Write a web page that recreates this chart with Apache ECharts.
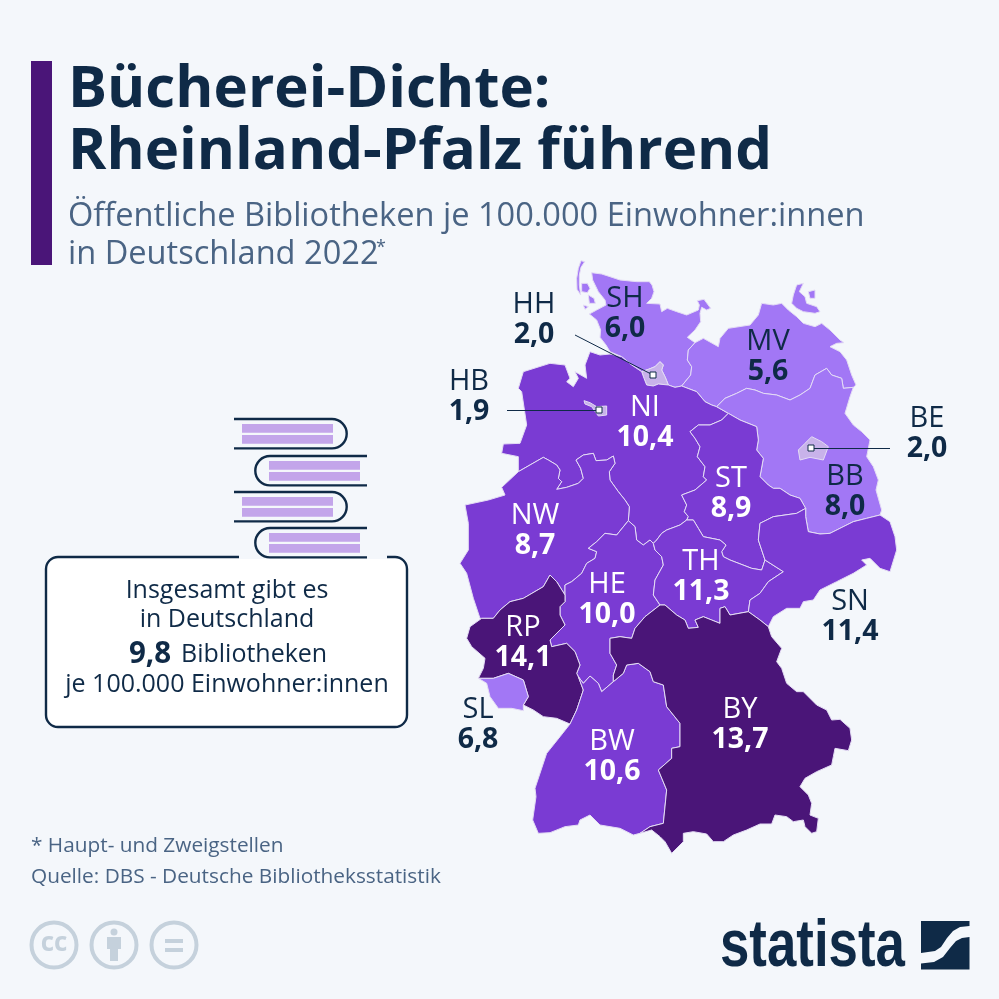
<!DOCTYPE html>
<html>
<head>
<meta charset="utf-8">
<style>
  html, body { margin: 0; padding: 0; background: #f4f7fb; }
  #chart { width: 999px; height: 999px; }
</style>
<script src="https://cdn.jsdelivr.net/npm/echarts@6/dist/echarts.min.js"></script>
</head>
<body>
<div id="chart"></div>
<script>
// chart values
const stateCodes = ['SH', 'HH', 'MV', 'HB', 'NI', 'BE', 'BB', 'ST', 'NW', 'HE', 'TH', 'SN', 'RP', 'SL', 'BW', 'BY']
const libraryDensity = [6.0, 2.0, 5.6, 1.9, 10.4, 2.0, 8.0, 8.9, 8.7, 10.0, 11.3, 11.4, 14.1, 6.8, 10.6, 13.7]
const colourBands = [
  { lt: 5, color: '#c8b2ea' },
  { gte: 5, lt: 8.5, color: '#a277f5' },
  { gte: 8.5, lt: 12, color: '#7a3bd3' },
  { gte: 12, color: '#4a1578' }
]
const darkLabelCodes = ['SH', 'HH', 'MV', 'HB', 'BE', 'BB', 'SN', 'SL']

// where the labels sit, in page pixels
const labelPlaces = {
  SH: [625, 314], HH: [534, 320], MV: [768, 357], HB: [469, 397], NI: [645, 423], BE: [927, 434],
  BB: [845, 492], ST: [731, 494], NW: [535, 531], HE: [607, 600], TH: [701, 577], SN: [850, 617],
  RP: [523, 643], SL: [478, 725], BW: [612, 757], BY: [740, 725]
}
const leaderLines = [
  [[575, 335], [653, 375]],
  [[507, 410], [599, 410]],
  [[811, 448], [890, 448]]
]

// state outlines, traced in page pixels from crops (ox, oy = crop corner, crop is 3x)
const at = (ox, oy, p) => {
  const out = []
  for (let i = 0; i < p.length; i += 2) out.push([ox + p[i] / 3, oy + p[i + 1] / 3])
  return out
}
const A = p => at(450, 250, p)
const B = p => at(640, 250, p)
const C = p => at(450, 540, p)
const D = p => at(640, 540, p)
const rev = s => s.slice().reverse()
const ring = (...segs) => { const r = [].concat(...segs); r.push(r[0]); return r }

// shared borders
const shNiW = A([515,320, 545,345, 575,365])
const hhN = A([575,365, 595,358, 615,350, 630,335, 640,345, 635,360, 645,380, 650,392, 655,405])
const hhS = A([655,405, 625,402, 610,408, 590,405, 582,385, 575,365])
const shNiE = A([655,405, 675,412, 695,408])
const shMv = A([735,278, 715,300, 712,330, 725,350, 722,375, 695,408])
const mvBb = B([230,470, 255,445, 290,430, 320,415, 345,420, 370,430, 410,435, 450,450, 480,435, 510,415, 525,375, 560,355, 575,375, 605,385, 610,415, 640,412])
const mvNi = B([125,408, 170,425, 195,455, 215,465, 230,470])
const bbNi = B([230,470, 265,490])
const bbSt = B([265,490, 300,510, 350,530, 355,570, 350,600, 370,625, 360,680, 385,705, 400,715, 420,715, 450,735, 480,745, 497,775])
const bbSn = B([497,775, 497,800, 505,845, 540,852, 570,850, 600,835, 640,815, 680,805, 720,795])
const niSt = B([265,490, 245,510, 210,525, 175,525, 150,545, 165,565, 180,590, 172,620, 195,650, 190,680, 200,690, 165,720, 125,735, 140,765, 133,785, 145,800, 140,810])
const stTh = B([140,810, 160,810, 175,835, 190,860, 240,870, 258,885, 245,905, 250,920, 270,930, 335,955, 365,960, 375,930])
const stSn = B([375,930, 355,870, 360,820, 400,800, 470,790, 497,775])
const niTh = A([710,810, 690,825, 650,840, 635,850, 620,870, 610,880])
const niHe = A([610,880, 600,870, 580,885, 560,870, 555,830, 535,812])
const niNw = A([535,812, 538,770, 525,750, 505,725, 480,690, 478,665, 495,640, 490,618, 470,630, 438,632, 430,610, 400,615, 378,630, 392,655, 400,685, 385,700, 350,712, 320,718, 335,695, 325,685, 330,660, 320,645, 295,630, 280,622, 205,665])
const nwRp = C([95,235, 130,235, 150,210, 180,185, 220,175, 280,140, 300,105, 320,125, 345,165])
const nwHe = C([345,165, 345,135, 365,125, 395,100, 410,70, 435,55, 440,35, 415,25, 440,5, 465,-20, 500,-15, 535,-58])
const rpHe = C([345,165, 345,185, 330,200, 330,225, 345,255, 300,300, 305,320, 350,310, 375,335, 390,375, 380,400, 385,410])
const rpBw = C([385,410, 400,450, 380,510, 360,552])
const rpSl = C([85,415, 130,415, 175,400, 220,420, 235,470, 220,495])
const heBw = C([385,410, 400,430, 420,408, 445,430, 455,455, 490,425])
const heBy = C([630,195, 585,230, 555,265, 545,295, 510,290, 480,295, 480,340, 500,375, 490,405, 490,425])
const heTh = C([630,195, 610,165, 615,120, 640,75, 635,50, 615,30, 610,10])
const thBy = D([60,195, 75,195, 110,225, 135,240, 145,265, 175,262, 165,240, 190,230, 215,240, 240,250, 240,205, 255,200, 270,225, 325,215])
const thSn = D([375,60, 430,95, 385,125, 360,160, 330,180, 325,215])
const snBy = D([385,260, 360,240, 325,215])
const byBw = C([490,425, 520,400, 530,375, 565,370, 600,395, 610,425, 640,435, 650,500, 690,550, 690,620, 665,625, 665,655, 625,690, 650,750, 640,850, 600,860, 570,880])

// outer coast and frontier pieces
const shOuter = A([515,320, 480,305, 468,285, 450,262, 452,240, 440,210, 418,192, 440,180, 468,165, 465,150, 445,125, 428,90, 425,68, 455,72, 480,80, 510,90, 560,95, 598,95, 606,105, 612,125, 605,145, 590,160, 630,162, 635,185, 652,175, 680,185, 710,195, 745,180, 748,165, 742,152, 762,148, 782,175, 770,180, 755,172, 750,190, 752,215, 735,240, 712,262, 735,278])
const mvOuter = B([165,278, 190,265, 235,290, 240,265, 265,235, 330,225, 355,195, 365,160, 400,165, 425,160, 445,180, 470,200, 490,220, 525,230, 545,220, 570,240, 600,270, 612,278, 590,280, 570,290, 600,305, 620,330, 635,375, 648,405, 640,412])
const bbOuter = B([640,412, 630,440, 615,490, 640,525, 665,545, 690,570, 680,620, 700,650, 715,690, 708,720, 725,780, 720,795])
const niOuter = A([205,665, 205,620, 155,610, 160,582, 210,580, 230,525, 215,425, 205,415, 220,365, 300,340, 345,345, 360,385, 350,395, 370,410, 385,385, 375,365, 410,385, 405,345, 420,305, 450,315, 480,312, 515,320])
const nwOuter = A([205,665, 155,712, 165,735, 115,750, 45,765, 55,820, 55,900, 30,940, 50,970, 70,1045, 90,1105, 95,1105])
const rpSouth = C([360,552, 320,535, 280,530, 250,510, 220,495])
const rpWest = C([85,415, 100,385, 105,355, 65,320, 50,295, 60,260, 95,235])
const slOuter = C([220,495, 220,512, 185,505, 145,505, 120,470, 110,430, 85,415])
const snOuter = B([720,795, 750,815, 765,860, 770,900, 750,965, 720,955, 690,925, 665,930, 680,945, 640,970, 590,995, 540,1020, 520,1050, 490,1055, 480,1075, 440,1075, 400,1100, 385,1130])
const byOuter = D([385,260, 395,290, 425,325, 410,365, 425,385, 440,430, 470,455, 490,455, 530,495, 560,510, 575,540, 600,538, 630,565, 635,600, 625,632, 585,625, 580,650, 575,675, 530,695, 495,715, 480,740, 505,765, 515,790, 510,825, 535,835, 530,875, 515,880, 495,860, 490,840, 460,845, 440,830, 405,825, 395,852, 360,852, 320,870, 280,885, 250,905, 220,905, 200,882, 160,875, 130,880, 130,905, 95,940, 75,905, 60,890, 35,870])
const bwOuter = C([570,880, 550,885, 510,865, 450,855, 420,825, 390,840, 385,855, 345,860, 300,878, 265,880, 248,840, 258,770, 255,745, 290,640, 330,590, 360,552])

const stateShapes = {
  SH: [ring(shOuter, shMv, rev(shNiE), rev(hhN), rev(shNiW)),
    ring(A([393,32, 404,35, 393,52, 388,75, 388,105, 392,135, 381,118, 380,85, 385,55])),
    ring(A([395,100, 412,100, 420,115, 412,128, 395,125])),
    ring(A([415,135, 432,145, 436,160, 418,160])),
    ring(A([400,165, 415,170, 405,178]))],
  HH: [ring(hhN, hhS)],
  MV: [ring(mvOuter, rev(mvBb), rev(mvNi), rev(shMv)),
    ring(B([470,105, 490,100, 478,125, 495,140, 500,160, 530,170, 540,185, 525,190, 490,185, 470,175, 455,160, 460,135])),
    ring(B([505,125, 525,120, 525,145, 510,145]))],
  NI: [ring(niOuter, shNiW, rev(hhS), shNiE, mvNi, bbNi, niSt, niTh, niHe, niNw)],
  HB: [ring(A([402,452, 420,458, 440,470, 470,468, 470,495, 445,498, 425,470, 405,462]))],
  BB: [ring(mvBb, bbOuter, rev(bbSn), rev(bbSt), rev(bbNi))],
  BE: [ring(B([475,600, 495,580, 515,560, 545,575, 565,590, 550,630, 510,622, 480,630]))],
  ST: [ring(bbSt, rev(stSn), rev(stTh), rev(niSt))],
  NW: [ring(nwOuter, nwRp, nwHe, niNw)],
  HE: [ring(rpHe, heBw, rev(heBy), heTh, niHe, rev(nwHe))],
  TH: [ring(thBy, rev(thSn), rev(stTh), niTh, rev(heTh))],
  SN: [ring(stSn, bbSn, snOuter, snBy, rev(thSn))],
  RP: [ring(nwRp, rpHe, rpBw, rpSouth, rev(rpSl), rpWest)],
  SL: [ring(rpSl, slOuter)],
  BY: [ring(thBy, rev(snBy), byOuter, rev(byBw), rev(heBy))],
  BW: [ring(byBw, bwOuter, rev(rpBw), heBw)]
}

// BB before BE and NI before HB so the city states stay on top
const drawOrder = ['SH', 'HH', 'MV', 'NI', 'HB', 'BB', 'BE', 'ST', 'NW', 'HE', 'TH', 'SN', 'RP', 'SL', 'BW', 'BY']
const germany = {
  type: 'FeatureCollection',
  features: drawOrder.map(code => ({
    type: 'Feature',
    properties: { name: code },
    geometry: { type: 'MultiPolygon', coordinates: stateShapes[code].map(r => [r]) }
  }))
}
echarts.registerMap('germany', germany)

const PAGE = '#f4f7fb'
const DARK = '#0f2a47'
const SLATE = '#4a6484'
const FONT = '"Open Sans", sans-serif'
const fmt = v => v.toFixed(1).replace('.', ',')

const text = (x, y, t, size, color, extra) => ({
  type: 'text', x, y, silent: true,
  style: Object.assign({ text: t, font: `${size}px ${FONT}`, fill: color, textVerticalAlign: 'middle' }, extra || {})
})
const stroke = { stroke: DARK, lineWidth: 2.4, fill: 'none' }
const hline = (x1, x2, y, style) => ({
  type: 'line', silent: true, shape: { x1, y1: y, x2, y2: y }, style: style || stroke
})
const book = (y, flip) => {
  const r = 14.7
  const x1 = flip ? 367 : 234
  const x2 = flip ? 270 : 332
  const rectX = flip ? 269 : 242
  return [
    hline(x1, x2, y),
    hline(x1, x2, y + 2 * r),
    {
      type: 'arc', silent: true,
      shape: { cx: x2, cy: y + r, r, startAngle: flip ? Math.PI / 2 : -Math.PI / 2, endAngle: flip ? Math.PI * 1.5 : Math.PI / 2 },
      style: stroke
    },
    { type: 'rect', silent: true, shape: { x: rectX, y: y + 5, width: 91, height: 8.7 }, style: { fill: '#c3a5ea' } },
    { type: 'rect', silent: true, shape: { x: rectX, y: y + 16, width: 91, height: 8.7 }, style: { fill: '#c3a5ea' } }
  ]
}
const ccRing = x => ({
  type: 'circle', silent: true, shape: { cx: x, cy: 945, r: 22.5 },
  style: { fill: 'none', stroke: '#c5d1dc', lineWidth: 4 }
})

const chart = echarts.init(document.getElementById('chart'), null, { renderer: 'canvas' })
chart.setOption({
  animation: false,
  backgroundColor: PAGE,
  visualMap: { show: false, type: 'piecewise', seriesIndex: 0, pieces: colourBands },
  geo: {
    map: 'germany',
    projection: { project: p => p, unproject: p => p },
    boundingCoords: [[0, 0], [999, 999]],
    left: 0, top: 0, width: 999, height: 999,
    roam: false, silent: true,
    label: { show: false },
    itemStyle: { areaColor: '#7a3bd3', borderColor: '#e4dcf5', borderWidth: 1 }
  },
  series: [
    {
      type: 'map',
      geoIndex: 0,
      silent: true,
      data: stateCodes.map((code, i) => ({ name: code, value: libraryDensity[i] }))
    },
    {
      type: 'lines',
      coordinateSystem: 'geo',
      silent: true, z: 5,
      lineStyle: { color: DARK, width: 1, opacity: 1, curveness: 0 },
      data: leaderLines.map(coords => ({ coords }))
    },
    {
      type: 'scatter',
      coordinateSystem: 'geo',
      silent: true, z: 6,
      symbol: 'rect', symbolSize: 6,
      itemStyle: { color: '#ffffff', borderColor: DARK, borderWidth: 1, opacity: 1 },
      data: leaderLines.map((l, i) => l[i === 2 ? 0 : 1])
    },
    {
      type: 'scatter',
      coordinateSystem: 'geo',
      silent: true, z: 7,
      symbolSize: 0,
      itemStyle: { opacity: 1 },
      data: stateCodes.map((code, i) => {
        const c = darkLabelCodes.includes(code) ? DARK : '#ffffff'
        return {
          name: code,
          value: labelPlaces[code],
          label: {
            show: true,
            position: 'inside',
            formatter: `{c|${code}}\n{v|${fmt(libraryDensity[i])}}`,
            rich: {
              c: { fontFamily: 'Open Sans', fontSize: 29, color: c, lineHeight: 30, align: 'center' },
              v: { fontFamily: 'Open Sans', fontSize: 28.5, fontWeight: 'bold', color: c, lineHeight: 30, align: 'center' }
            }
          }
        }
      })
    }
  ],
  graphic: [
    { type: 'rect', silent: true, shape: { x: 31, y: 61, width: 21, height: 204 }, style: { fill: '#4a1578' } },
    text(68, 90, 'Bücherei-Dichte:', 58.2, DARK, { font: `bold 58.2px ${FONT}` }),
    text(68, 152, 'Rheinland-Pfalz führend', 58.2, DARK, { font: `bold 58.2px ${FONT}` }),
    text(68, 217, 'Öffentliche Bibliotheken je 100.000 Einwohner:innen', 32.6, SLATE),
    text(68, 255, 'in Deutschland 2022', 32.6, SLATE),
    text(376, 248, '*', 18, SLATE),

    ...book(419, false), ...book(456, true), ...book(492, false),
    { type: 'rect', silent: true, shape: { x: 46, y: 557, width: 361, height: 170, r: 12 }, style: { fill: '#ffffff', stroke: DARK, lineWidth: 2.4 } },
    hline(239, 387, 557, { stroke: PAGE, lineWidth: 4, fill: 'none' }),
    ...book(528, true),
    text(227, 591, 'Insgesamt gibt es', 25, DARK, { textAlign: 'center' }),
    text(227, 620, 'in Deutschland', 25, DARK, { textAlign: 'center' }),
    text(129, 655, '9,8', 29.5, DARK, { font: `bold 29.5px ${FONT}` }),
    text(181, 655, 'Bibliotheken', 25, DARK),
    text(227, 685, 'je 100.000 Einwohner:innen', 25, DARK, { textAlign: 'center' }),

    text(31, 846, '* Haupt- und Zweigstellen', 20.8, SLATE),
    text(31, 877, 'Quelle: DBS - Deutsche Bibliotheksstatistik', 20.8, SLATE),

    ccRing(54), ccRing(114), ccRing(174),
    text(54, 944, 'cc', 26, '#c5d1dc', { font: `bold 26px ${FONT}`, textAlign: 'center' }),
    { type: 'circle', silent: true, shape: { cx: 114, cy: 932, r: 3.5 }, style: { fill: '#c5d1dc' } },
    { type: 'rect', silent: true, shape: { x: 107, y: 937, width: 14, height: 12 }, style: { fill: '#c5d1dc' } },
    { type: 'rect', silent: true, shape: { x: 110, y: 949, width: 8, height: 12 }, style: { fill: '#c5d1dc' } },
    { type: 'rect', silent: true, shape: { x: 165, y: 939, width: 18, height: 4 }, style: { fill: '#c5d1dc' } },
    { type: 'rect', silent: true, shape: { x: 165, y: 948, width: 18, height: 4 }, style: { fill: '#c5d1dc' } },

    {
      type: 'text', x: 720, y: 948, scaleX: 0.8, silent: true,
      style: { text: 'statista', font: 'bold 66px "Liberation Sans", sans-serif', fill: DARK, textVerticalAlign: 'middle' }
    },
    {
      type: 'polygon', silent: true,
      shape: { points: [[921, 921], [969.5, 921], [969.5, 926], [960, 927], [953, 931], [947, 938], [941, 947], [935, 951], [921, 953]] },
      style: { fill: DARK }
    },
    {
      type: 'polygon', silent: true,
      shape: { points: [[969.5, 937], [969.5, 969.5], [921, 969.5], [921, 963.5], [934, 962], [943, 957], [950, 948], [956, 941], [962, 938]] },
      style: { fill: DARK }
    }
  ]
})
</script>
</body>
</html>
